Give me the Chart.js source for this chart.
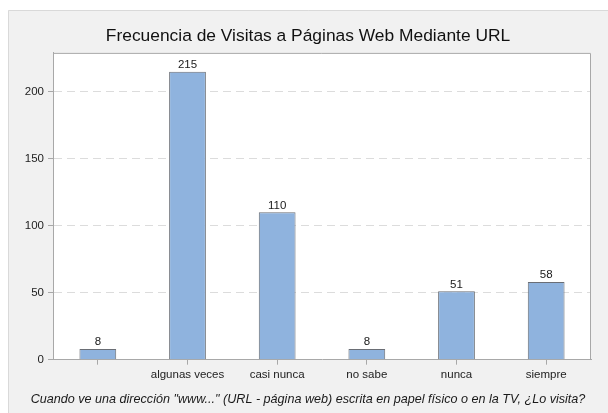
<!DOCTYPE html>
<html>
<head>
<meta charset="utf-8">
<script src="https://cdn.jsdelivr.net/npm/chart.js@4/dist/chart.umd.min.js"></script>
<style>
  html, body { margin: 0; padding: 0; background: #fff; }
  #wrap { width: 608px; height: 413px; }
</style>
</head>
<body>
<div id="wrap"><canvas id="visitChart" width="608" height="413"></canvas></div>
<script>
// --- DATA ---
const categories = ['', 'algunas veces', 'casi nunca', 'no sabe', 'nunca', 'siempre'];
const counts = [8, 215, 110, 8, 51, 58];
const yTicks = [0, 50, 100, 150, 200];

const FONT = "'Liberation Sans', Arial, Helvetica, sans-serif";

// grey panel + white plot box
const panelPlugin = {
  id: 'panel',
  beforeDraw(chart) {
    const c = chart.ctx;
    const a = chart.chartArea;
    c.save();
    c.fillStyle = '#ffffff';
    c.fillRect(0, 0, chart.width, chart.height);
    c.fillStyle = '#f1f1f1';
    c.fillRect(8, 10, chart.width - 8, chart.height - 10);
    c.strokeStyle = '#d9d9d9';
    c.lineWidth = 1;
    c.beginPath();
    c.moveTo(8.5, chart.height);
    c.lineTo(8.5, 10.5);
    c.lineTo(chart.width, 10.5);
    c.stroke();
    c.fillStyle = '#ffffff';
    c.fillRect(a.left, a.top, a.right - a.left, a.bottom - a.top);
    c.restore();
  },
  afterDatasetsDraw(chart) {
    const c = chart.ctx;
    const a = chart.chartArea;
    c.save();
    c.strokeStyle = '#a8a8a8';
    c.lineWidth = 1;
    c.beginPath();
    c.moveTo(a.left, a.top + 0.5);
    c.lineTo(a.right - 0.5, a.top + 0.5);
    c.lineTo(a.right - 0.5, a.bottom);
    c.stroke();
    c.restore();
  }
};

// value labels above the bars
const valueLabels = {
  id: 'valueLabels',
  afterDatasetsDraw(chart) {
    const c = chart.ctx;
    const meta = chart.getDatasetMeta(0);
    c.save();
    c.font = '11.5px ' + FONT;
    c.fillStyle = '#1a1a1a';
    c.textAlign = 'center';
    c.textBaseline = 'bottom';
    meta.data.forEach((bar, i) => {
      c.fillText(String(counts[i]), bar.x, bar.y - 1);
    });
    c.restore();
  }
};

const ctx = document.getElementById('visitChart').getContext('2d');
new Chart(ctx, {
  type: 'bar',
  data: {
    labels: categories,
    datasets: [{
      data: counts,
      backgroundColor: '#8fb3de',
      borderColor: '#6a6e75',
      borderWidth: 1,
      barPercentage: 0.41,
      categoryPercentage: 1
    }]
  },
  options: {
    responsive: false,
    animation: false,
    events: [],
    layout: { padding: { left: 8, top: 10, right: 0, bottom: 0 } },
    plugins: {
      legend: { display: false },
      tooltip: { enabled: false },
      title: {
        display: true,
        text: 'Frecuencia de Visitas a Páginas Web Mediante URL',
        color: '#111',
        font: { family: FONT, size: 17.4, weight: 'normal' },
        padding: { top: 16, bottom: 6 }
      },
      subtitle: {
        display: true,
        position: 'bottom',
        text: 'Cuando ve una dirección "www..." (URL - página web) escrita en papel físico o en la TV, ¿Lo visita?',
        color: '#1a1a1a',
        font: { family: FONT, size: 12.6, style: 'italic' },
        padding: { top: 4, bottom: 6 }
      }
    },
    scales: {
      x: {
        grid: { offset: false, drawOnChartArea: false, drawTicks: true, tickLength: 5, tickColor: '#a8a8a8' },
        border: { display: true, color: '#a8a8a8' },
        ticks: { color: '#222', font: { family: FONT, size: 11.5 }, padding: 3, maxRotation: 0, autoSkip: false },
        afterFit(scale) { scale.height = 28.2; }
      },
      y: {
        min: 0,
        max: 229,
        grid: { color: '#dcdcdc', tickLength: 5, tickColor: '#a8a8a8', tickBorderDash: [] },
        border: { display: true, color: '#a8a8a8', dash: [8, 5] },
        ticks: { stepSize: 50, color: '#222', font: { family: FONT, size: 11.5 }, padding: 4 },
        afterBuildTicks(scale) {
          scale.ticks = yTicks.map(v => ({ value: v }));
        },
        afterFit(scale) { scale.width = 45; }
      },
      y2: {
        type: 'linear',
        position: 'right',
        display: true,
        grid: { display: false },
        border: { display: false },
        ticks: { display: false },
        afterFit(scale) { scale.width = 17; }
      }
    }
  },
  plugins: [panelPlugin, valueLabels]
});
</script>
</body>
</html>
